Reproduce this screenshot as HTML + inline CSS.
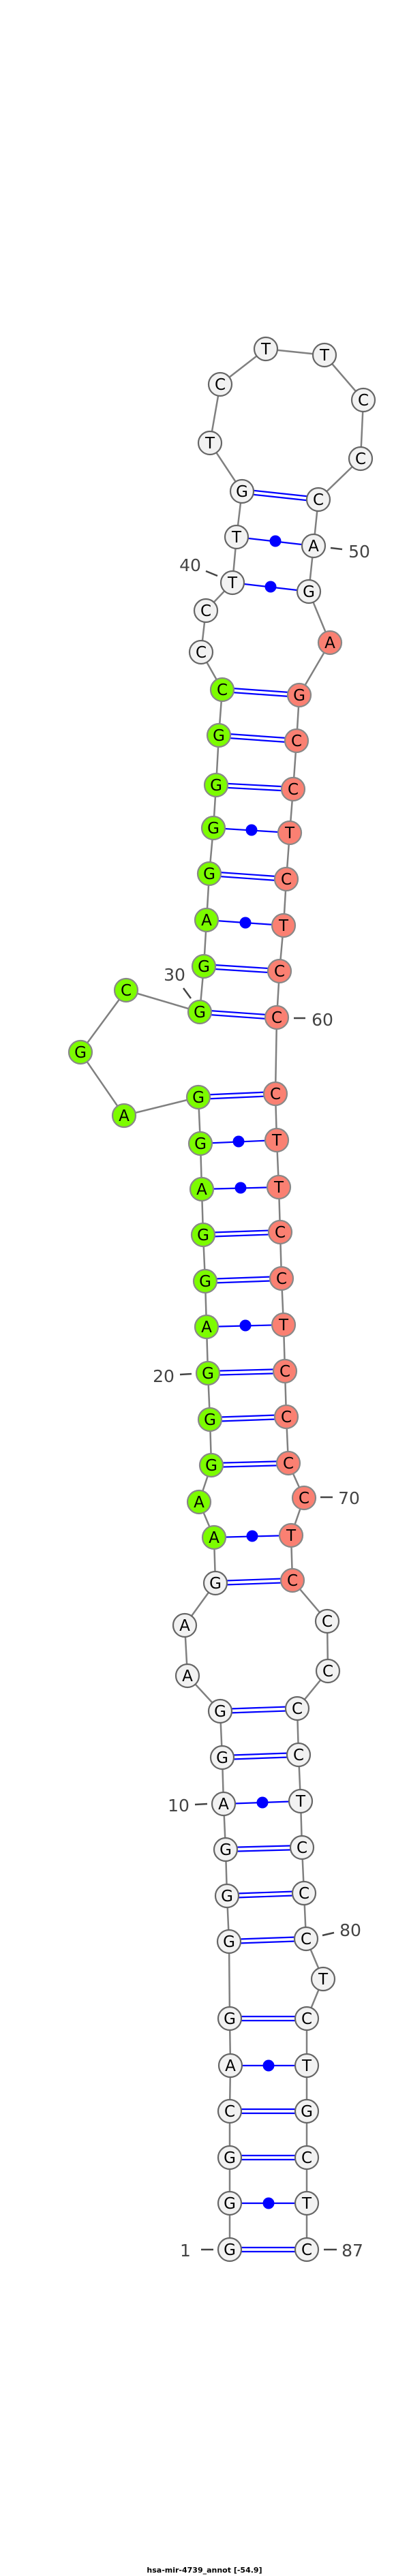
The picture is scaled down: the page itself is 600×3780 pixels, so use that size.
<!DOCTYPE html>
<html><head><meta charset="utf-8"><style>
html,body{margin:0;padding:0;background:#fff;width:600px;height:3780px;overflow:hidden}
svg{display:block}
.n{stroke-width:2.2}
.w{fill:#f2f2f2;stroke:#666}
.g{fill:#7cfc00;stroke:#888}
.r{fill:#fa8072;stroke:#888}
.t{font-family:"DejaVu Sans","Liberation Sans",sans-serif;font-size:23px;fill:#000;text-anchor:middle}
.l{font-family:"DejaVu Sans","Liberation Sans",sans-serif;font-size:25px;fill:#444;text-anchor:middle}
.bp{stroke:#0000ff;stroke-width:2.2}
.tk{stroke:#444;stroke-width:2.5}
</style></head><body>
<svg width="600" height="3780" viewBox="0 0 600 3780" xmlns="http://www.w3.org/2000/svg">
<polyline fill="none" stroke="#808080" stroke-width="2.5" points="337,3301 337,3233 337,3166 337,3098 338,3031 337,2962 336,2849 333,2782 331,2714 328,2647 326,2579 323,2511 275,2459 271,2385 316,2323 314,2256 292,2204 310,2150 308,2083 305,2015 303,1947 301,1880 298,1812 296,1745 294,1678 291,1610 182,1637 118,1544 185,1453 293,1485 299,1418 303,1350 307,1282 313,1215 317,1152 321,1079 326,1012 295,957 302,896 341,855 347,788 355,721 308,650 323,564 390,512 476,521 533,587 529,673 467,733 460,801 453,868 484,943 439,1020 435,1087 430,1158 425,1222 420,1290 416,1358 410,1425 406,1493 404,1605 406,1673 409,1742 411,1808 413,1876 416,1944 418,2012 420,2079 423,2147 446,2198 427,2253 429,2319 480,2379 481,2452 436,2507 438,2575 441,2643 443,2711 446,2778 449,2845 474,2904 450,2962 450,3031 450,3098 450,3166 450,3233 450,3301"/>
<g class="bp">
<line x1="337" y1="3298" x2="450" y2="3298"/><line x1="337" y1="3304" x2="450" y2="3304"/>
<line x1="337" y1="3163" x2="450" y2="3163"/><line x1="337" y1="3169" x2="450" y2="3169"/>
<line x1="337" y1="3095" x2="450" y2="3095"/><line x1="337" y1="3101" x2="450" y2="3101"/>
<line x1="337" y1="2959" x2="450" y2="2959"/><line x1="337" y1="2965" x2="450" y2="2965"/>
<line x1="336" y1="2846" x2="449" y2="2842"/><line x1="336" y1="2852" x2="449" y2="2848"/>
<line x1="333" y1="2779" x2="446" y2="2775"/><line x1="333" y1="2785" x2="446" y2="2781"/>
<line x1="331" y1="2711" x2="443" y2="2708"/><line x1="331" y1="2717" x2="443" y2="2714"/>
<line x1="326" y1="2576" x2="438" y2="2572"/><line x1="326" y1="2582" x2="438" y2="2578"/>
<line x1="323" y1="2508" x2="436" y2="2504"/><line x1="323" y1="2514" x2="436" y2="2510"/>
<line x1="316" y1="2320" x2="429" y2="2316"/><line x1="316" y1="2326" x2="429" y2="2322"/>
<line x1="310" y1="2147" x2="423" y2="2144"/><line x1="310" y1="2153" x2="423" y2="2150"/>
<line x1="308" y1="2080" x2="420" y2="2076"/><line x1="308" y1="2086" x2="420" y2="2082"/>
<line x1="305" y1="2012" x2="418" y2="2009"/><line x1="305" y1="2018" x2="418" y2="2015"/>
<line x1="301" y1="1877" x2="413" y2="1873"/><line x1="301" y1="1883" x2="413" y2="1879"/>
<line x1="298" y1="1809" x2="411" y2="1805"/><line x1="298" y1="1815" x2="411" y2="1811"/>
<line x1="291" y1="1607" x2="404" y2="1602"/><line x1="291" y1="1613" x2="404" y2="1608"/>
<line x1="293" y1="1482" x2="406" y2="1490"/><line x1="293" y1="1488" x2="406" y2="1496"/>
<line x1="299" y1="1415" x2="410" y2="1422"/><line x1="299" y1="1421" x2="410" y2="1428"/>
<line x1="307" y1="1279" x2="420" y2="1287"/><line x1="307" y1="1285" x2="420" y2="1293"/>
<line x1="317" y1="1149" x2="430" y2="1155"/><line x1="317" y1="1155" x2="430" y2="1161"/>
<line x1="321" y1="1076" x2="435" y2="1084"/><line x1="321" y1="1082" x2="435" y2="1090"/>
<line x1="326" y1="1009" x2="439" y2="1017"/><line x1="326" y1="1015" x2="439" y2="1023"/>
<line x1="355" y1="718" x2="467" y2="730"/><line x1="355" y1="724" x2="467" y2="736"/>
<line x1="337" y1="3233" x2="450" y2="3233"/>
<line x1="338" y1="3031" x2="450" y2="3031"/>
<line x1="328" y1="2647" x2="441" y2="2643"/>
<line x1="314" y1="2256" x2="427" y2="2253"/>
<line x1="303" y1="1947" x2="416" y2="1944"/>
<line x1="296" y1="1745" x2="409" y2="1742"/>
<line x1="294" y1="1678" x2="406" y2="1673"/>
<line x1="303" y1="1350" x2="416" y2="1358"/>
<line x1="313" y1="1215" x2="425" y2="1222"/>
<line x1="341" y1="855" x2="453" y2="868"/>
<line x1="347" y1="788" x2="460" y2="801"/>
</g>
<g fill="#0000ff">
<circle cx="394" cy="3233" r="8.5"/><circle cx="394" cy="3031" r="8.5"/><circle cx="385" cy="2645" r="8.5"/>
<circle cx="370" cy="2254" r="8.5"/><circle cx="360" cy="1945" r="8.5"/><circle cx="353" cy="1743" r="8.5"/>
<circle cx="350" cy="1675" r="8.5"/><circle cx="360" cy="1354" r="8.5"/><circle cx="369" cy="1218" r="8.5"/>
<circle cx="397" cy="861" r="8.5"/><circle cx="404" cy="794" r="8.5"/>
</g>
<g class="tk">
<line x1="485" y1="804" x2="502" y2="806"/><line x1="302" y1="838" x2="319" y2="845"/>
<line x1="269" y1="1450" x2="280" y2="1465"/><line x1="431" y1="1494" x2="448" y2="1494"/>
<line x1="264" y1="2017" x2="281" y2="2016"/><line x1="470" y1="2197" x2="488" y2="2197"/>
<line x1="286" y1="2648" x2="304" y2="2647"/><line x1="473" y1="2840" x2="490" y2="2836"/>
<line x1="295" y1="3301" x2="313" y2="3301"/><line x1="475" y1="3301" x2="494" y2="3301"/>
</g>
<g class="l">
<text x="527" y="818">50</text><text x="279" y="838">40</text><text x="256" y="1439">30</text>
<text x="473" y="1505">60</text><text x="240" y="2028">20</text><text x="512" y="2207">70</text>
<text x="262" y="2658">10</text><text x="514" y="2841">80</text><text x="272" y="3311">1</text>
<text x="517" y="3311">87</text>
</g>
<g class="n">
<circle class="w" cx="337" cy="3301" r="17"/><circle class="w" cx="337" cy="3233" r="17"/><circle class="w" cx="337" cy="3166" r="17"/><circle class="w" cx="337" cy="3098" r="17"/><circle class="w" cx="338" cy="3031" r="17"/><circle class="w" cx="337" cy="2962" r="17"/><circle class="w" cx="336" cy="2849" r="17"/><circle class="w" cx="333" cy="2782" r="17"/><circle class="w" cx="331" cy="2714" r="17"/><circle class="w" cx="328" cy="2647" r="17"/><circle class="w" cx="326" cy="2579" r="17"/><circle class="w" cx="323" cy="2511" r="17"/><circle class="w" cx="275" cy="2459" r="17"/><circle class="w" cx="271" cy="2385" r="17"/><circle class="w" cx="316" cy="2323" r="17"/>
<circle class="g" cx="314" cy="2256" r="17"/><circle class="g" cx="292" cy="2204" r="17"/><circle class="g" cx="310" cy="2150" r="17"/><circle class="g" cx="308" cy="2083" r="17"/><circle class="g" cx="305" cy="2015" r="17"/><circle class="g" cx="303" cy="1947" r="17"/><circle class="g" cx="301" cy="1880" r="17"/><circle class="g" cx="298" cy="1812" r="17"/><circle class="g" cx="296" cy="1745" r="17"/><circle class="g" cx="294" cy="1678" r="17"/><circle class="g" cx="291" cy="1610" r="17"/><circle class="g" cx="182" cy="1637" r="17"/><circle class="g" cx="118" cy="1544" r="17"/><circle class="g" cx="185" cy="1453" r="17"/><circle class="g" cx="293" cy="1485" r="17"/><circle class="g" cx="299" cy="1418" r="17"/><circle class="g" cx="303" cy="1350" r="17"/><circle class="g" cx="307" cy="1282" r="17"/><circle class="g" cx="313" cy="1215" r="17"/><circle class="g" cx="317" cy="1152" r="17"/><circle class="g" cx="321" cy="1079" r="17"/><circle class="g" cx="326" cy="1012" r="17"/>
<circle class="w" cx="295" cy="957" r="17"/><circle class="w" cx="302" cy="896" r="17"/><circle class="w" cx="341" cy="855" r="17"/><circle class="w" cx="347" cy="788" r="17"/><circle class="w" cx="355" cy="721" r="17"/><circle class="w" cx="308" cy="650" r="17"/><circle class="w" cx="323" cy="564" r="17"/><circle class="w" cx="390" cy="512" r="17"/><circle class="w" cx="476" cy="521" r="17"/><circle class="w" cx="533" cy="587" r="17"/><circle class="w" cx="529" cy="673" r="17"/><circle class="w" cx="467" cy="733" r="17"/><circle class="w" cx="460" cy="801" r="17"/><circle class="w" cx="453" cy="868" r="17"/>
<circle class="r" cx="484" cy="943" r="17"/><circle class="r" cx="439" cy="1020" r="17"/><circle class="r" cx="435" cy="1087" r="17"/><circle class="r" cx="430" cy="1158" r="17"/><circle class="r" cx="425" cy="1222" r="17"/><circle class="r" cx="420" cy="1290" r="17"/><circle class="r" cx="416" cy="1358" r="17"/><circle class="r" cx="410" cy="1425" r="17"/><circle class="r" cx="406" cy="1493" r="17"/><circle class="r" cx="404" cy="1605" r="17"/><circle class="r" cx="406" cy="1673" r="17"/><circle class="r" cx="409" cy="1742" r="17"/><circle class="r" cx="411" cy="1808" r="17"/><circle class="r" cx="413" cy="1876" r="17"/><circle class="r" cx="416" cy="1944" r="17"/><circle class="r" cx="418" cy="2012" r="17"/><circle class="r" cx="420" cy="2079" r="17"/><circle class="r" cx="423" cy="2147" r="17"/><circle class="r" cx="446" cy="2198" r="17"/><circle class="r" cx="427" cy="2253" r="17"/><circle class="r" cx="429" cy="2319" r="17"/>
<circle class="w" cx="480" cy="2379" r="17"/><circle class="w" cx="481" cy="2452" r="17"/><circle class="w" cx="436" cy="2507" r="17"/><circle class="w" cx="438" cy="2575" r="17"/><circle class="w" cx="441" cy="2643" r="17"/><circle class="w" cx="443" cy="2711" r="17"/><circle class="w" cx="446" cy="2778" r="17"/><circle class="w" cx="449" cy="2845" r="17"/><circle class="w" cx="474" cy="2904" r="17"/><circle class="w" cx="450" cy="2962" r="17"/><circle class="w" cx="450" cy="3031" r="17"/><circle class="w" cx="450" cy="3098" r="17"/><circle class="w" cx="450" cy="3166" r="17"/><circle class="w" cx="450" cy="3233" r="17"/><circle class="w" cx="450" cy="3301" r="17"/>
</g>
<g class="t">
<text x="337" y="3309">G</text><text x="337" y="3241">G</text><text x="337" y="3174">G</text><text x="337" y="3106">C</text><text x="338" y="3039">A</text><text x="337" y="2970">G</text><text x="336" y="2857">G</text><text x="333" y="2790">G</text><text x="331" y="2722">G</text><text x="328" y="2655">A</text><text x="326" y="2587">G</text><text x="323" y="2519">G</text><text x="275" y="2467">A</text><text x="271" y="2393">A</text><text x="316" y="2331">G</text>
<text x="314" y="2264">A</text><text x="292" y="2212">A</text><text x="310" y="2158">G</text><text x="308" y="2091">G</text><text x="305" y="2023">G</text><text x="303" y="1955">A</text><text x="301" y="1888">G</text><text x="298" y="1820">G</text><text x="296" y="1753">A</text><text x="294" y="1686">G</text><text x="291" y="1618">G</text><text x="182" y="1645">A</text><text x="118" y="1552">G</text><text x="185" y="1461">C</text><text x="293" y="1493">G</text><text x="299" y="1426">G</text><text x="303" y="1358">A</text><text x="307" y="1290">G</text><text x="313" y="1223">G</text><text x="317" y="1160">G</text><text x="321" y="1087">G</text><text x="326" y="1020">C</text>
<text x="295" y="965">C</text><text x="302" y="904">C</text><text x="341" y="863">T</text><text x="347" y="796">T</text><text x="355" y="729">G</text><text x="308" y="658">T</text><text x="323" y="572">C</text><text x="390" y="520">T</text><text x="476" y="529">T</text><text x="533" y="595">C</text><text x="529" y="681">C</text><text x="467" y="741">C</text><text x="460" y="809">A</text><text x="453" y="876">G</text>
<text x="484" y="951">A</text><text x="439" y="1028">G</text><text x="435" y="1095">C</text><text x="430" y="1166">C</text><text x="425" y="1230">T</text><text x="420" y="1298">C</text><text x="416" y="1366">T</text><text x="410" y="1433">C</text><text x="406" y="1501">C</text><text x="404" y="1613">C</text><text x="406" y="1681">T</text><text x="409" y="1750">T</text><text x="411" y="1816">C</text><text x="413" y="1884">C</text><text x="416" y="1952">T</text><text x="418" y="2020">C</text><text x="420" y="2087">C</text><text x="423" y="2155">C</text><text x="446" y="2206">C</text><text x="427" y="2261">T</text><text x="429" y="2327">C</text>
<text x="480" y="2387">C</text><text x="481" y="2460">C</text><text x="436" y="2515">C</text><text x="438" y="2583">C</text><text x="441" y="2651">T</text><text x="443" y="2719">C</text><text x="446" y="2786">C</text><text x="449" y="2853">C</text><text x="474" y="2912">T</text><text x="450" y="2970">C</text><text x="450" y="3039">T</text><text x="450" y="3106">G</text><text x="450" y="3174">C</text><text x="450" y="3241">T</text><text x="450" y="3309">C</text>
</g>
<text x="300" y="3775" style="font-family:'DejaVu Sans','Liberation Sans',sans-serif;font-size:11px;font-weight:bold;fill:#000;text-anchor:middle">hsa-mir-4739_annot [-54.9]</text>
</svg>
</body></html>
